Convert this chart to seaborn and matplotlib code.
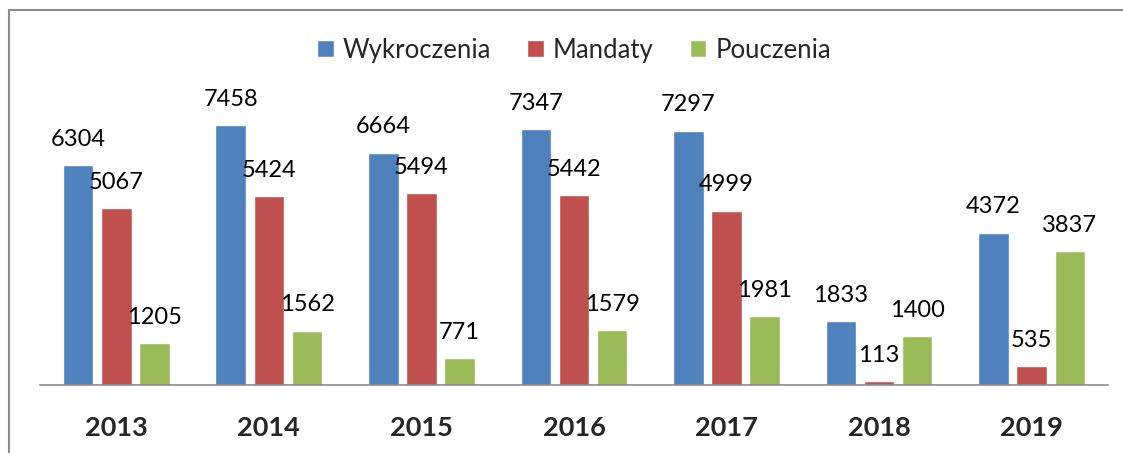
import seaborn as sns
import matplotlib.pyplot as plt
import pandas as pd
from matplotlib.lines import Line2D

lata = ['2013', '2014', '2015', '2016', '2017', '2018', '2019']
wykroczenia = [6304, 7458, 6664, 7347, 7297, 1833, 4372]
mandaty = [5067, 5424, 5494, 5442, 4999, 113, 535]
pouczenia = [1205, 1562, 771, 1579, 1981, 1400, 3837]
serie = ['Wykroczenia', 'Mandaty', 'Pouczenia']
kolory = ['#4F81BD', '#C0504D', '#9BBB59']

df = pd.DataFrame({'rok': lata * 3,
                   'seria': sum([[s] * len(lata) for s in serie], []),
                   'wartosc': wykroczenia + mandaty + pouczenia})

sns.set_style('white')
plt.rcParams['font.family'] = ['Lato', 'DejaVu Sans']

fig = plt.figure(figsize=(11.23, 4.53), dpi=100)
ax = fig.add_axes([0.0356, 0.150, 0.951, 0.616])
sns.barplot(data=df, x='rok', y='wartosc', hue='seria', palette=kolory,
            saturation=1, width=0.75, gap=0.2, edgecolor='white',
            linewidth=1, ax=ax)

for cont in ax.containers:
    ax.bar_label(cont, padding=11, fontsize=17, color='black')

ax.set_xlim(-0.5, 6.5)
ax.set_ylim(0, 8000)
ax.set_xlabel('')
ax.set_ylabel('')
ax.set_yticks([])
for s in ['top', 'right', 'left']:
    ax.spines[s].set_visible(False)
ax.spines['bottom'].set_color('#8c8c8c')
ax.spines['bottom'].set_linewidth(1.2)
ax.tick_params(axis='x', length=0, pad=22)
for t in ax.get_xticklabels():
    t.set_fontsize(19.5)
    t.set_fontweight('bold')

ax.legend(loc='center', bbox_to_anchor=(0.5, 1.20), ncol=3, frameon=False,
          fontsize=18.5, handlelength=0.65, handleheight=0.65, handletextpad=0.35,
          columnspacing=1.4)

fig.add_artist(Line2D([0.0076, 1.0], [0.977, 0.977], color='#8c8c8c', lw=1.5))
fig.add_artist(Line2D([0.0076, 0.0076], [0.0, 0.977], color='#8c8c8c', lw=1.5))

plt.savefig('out.png', dpi=100)
